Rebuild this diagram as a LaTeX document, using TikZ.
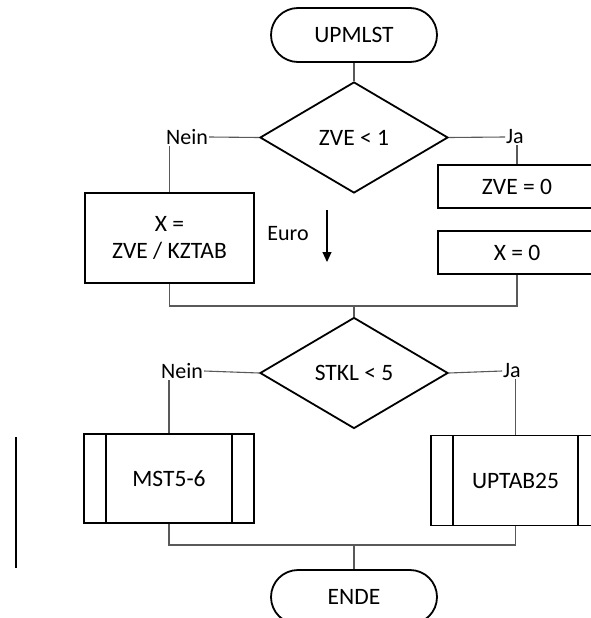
\documentclass[tikz,border=0pt]{standalone}
\usepackage{fontspec}
\setmainfont{Carlito}
\usetikzlibrary{shapes.geometric,arrows.meta}
\tikzset{
  every node/.style={font=\fontsize{23.5}{27}\selectfont, text=black},
  term/.style={draw=black, line width=1.8pt, rounded corners=27pt, minimum width=166pt, minimum height=54pt, inner sep=0pt},
  dec/.style={draw=black, line width=1.8pt, diamond, minimum width=188pt, minimum height=111pt, inner sep=0pt},
  proc/.style={draw=black, line width=1.8pt, rectangle, inner sep=0pt, align=center},
  lbl/.style={inner sep=1pt, font=\fontsize{22}{26}\selectfont},
  conn/.style={draw=black!65, line width=1.1pt},
}
\begin{document}
\begin{tikzpicture}[x=1pt,y=-1pt]
\useasboundingbox (0,0) rectangle (591,618);
\clip (0,0) rectangle (591,618);
% nodes
\node[term] (start) at (354,35) {UPMLST};
\node[dec] (d1) at (354,137.5) {ZVE < 1};
\node[lbl] (nein1) at (187,137) {Nein};
\node[lbl] (ja1) at (515,137) {Ja};
\node[proc, minimum width=169pt, minimum height=90pt] (xbox) at (169.5,238) {X =\\ZVE / KZTAB};
\node[proc, minimum width=158pt, minimum height=43pt] (zve0) at (517,186.5) {ZVE = 0};
\node[proc, minimum width=158pt, minimum height=43pt] (x0) at (517,252.5) {X = 0};
\node[lbl] (euro) at (288,234) {Euro};
\coordinate (ea) at (327,210);
\coordinate (eb) at (327,262);
\coordinate (m1) at (354,306);
\node[dec] (d2) at (354,373) {STKL < 5};
\node[lbl] (nein2) at (182,371) {Nein};
\node[lbl] (ja2) at (512,371) {Ja};
\node[proc, minimum width=170pt, minimum height=89pt] (mst) at (169,478.5) {MST5-6};
\node[proc, minimum width=169pt, minimum height=90pt] (uptab) at (515.5,480.5) {UPTAB25};
\coordinate (m2) at (354,545);
\node[term] (ende) at (354,597) {ENDE};
\coordinate (la) at (16,437);
\coordinate (lb) at (16,568);
% predefined process inner lines
\draw[line width=1.8pt] ([xshift=23pt]mst.north west) -- ([xshift=23pt]mst.south west);
\draw[line width=1.8pt] ([xshift=-23pt]mst.north east) -- ([xshift=-23pt]mst.south east);
\draw[line width=1.8pt] ([xshift=23pt]uptab.north west) -- ([xshift=23pt]uptab.south west);
\draw[line width=1.8pt] ([xshift=-23pt]uptab.north east) -- ([xshift=-23pt]uptab.south east);
% connectors
\draw[conn] (start.south) -- (d1.north);
\draw[conn] (d1.west) -- (nein1.east);
\draw[conn] (d1.east) -- (ja1.west);
\draw[conn] (xbox.north |- nein1.south) -- (xbox.north);
\draw[conn] (zve0.north |- ja1.south) -- (zve0.north);
\draw[-{Triangle[length=10pt,width=9pt]}, draw=black, line width=1.1pt] (ea) -- (eb);
\draw[conn] (xbox.south) |- (m1) -| (x0.south);
\draw[conn] (m1) -- (d2.north);
\draw[conn] (d2.west) -- (nein2.east);
\draw[conn] (d2.east) -- (ja2.west);
\draw[conn] (mst.north |- nein2.south) -- (mst.north);
\draw[conn] (uptab.north |- ja2.south) -- (uptab.north);
\draw[conn] (mst.south) |- (m2) -| (uptab.south);
\draw[conn] (m2) -- (ende.north);
\draw[line width=2.2pt, black] (la) -- (lb);
\end{tikzpicture}
\end{document}
